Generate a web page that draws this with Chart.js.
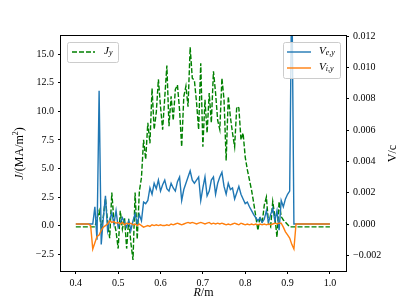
<!DOCTYPE html>
<html>
<head>
<meta charset="utf-8">
<script src="https://cdn.jsdelivr.net/npm/chart.js@4.4.1/dist/chart.umd.min.js"></script>
<style>
html,body{margin:0;padding:0;background:#fff;}
#wrap{width:407px;height:305px;}
</style>
</head>
<body>
<div id="wrap"><canvas id="mycanvas" width="407" height="305"></canvas></div>
<script>
// radius grid (m)
var R = [
  0.400,0.405,0.410,0.415,0.420,0.425,0.430,0.435,0.440,0.445,
  0.450,0.455,0.460,0.465,0.470,0.475,0.480,0.485,0.490,0.495,
  0.500,0.505,0.510,0.515,0.520,0.525,0.530,0.535,0.540,0.545,
  0.550,0.555,0.560,0.565,0.570,0.575,0.580,0.585,0.590,0.595,
  0.600,0.605,0.610,0.615,0.620,0.625,0.630,0.635,0.640,0.645,
  0.650,0.655,0.660,0.665,0.670,0.675,0.680,0.685,0.690,0.695,
  0.700,0.705,0.710,0.715,0.720,0.725,0.730,0.735,0.740,0.745,
  0.750,0.755,0.760,0.765,0.770,0.775,0.780,0.785,0.790,0.795,
  0.800,0.805,0.810,0.815,0.820,0.825,0.830,0.835,0.840,0.845,
  0.850,0.855,0.860,0.865,0.870,0.875,0.880,0.885,0.890,0.895,
  0.900,0.905,0.910,0.915,0.920,0.925,0.930,0.935,0.940,0.945,
  0.950,0.955,0.960,0.965,0.970,0.975,0.980,0.985,0.990,0.995,
  1.000
];
// J_y (MA/m^2)
var J = [
  -0.1,-0.1,-0.1,-0.1,-0.1,-0.1,-0.1,-0.1,-0.1,-0.1,
  0.6,1.3,-0.2,0.8,2.4,0.3,-1.1,2.9,0.4,-0.5,
  -2.0,1.3,-0.3,0.7,-2.0,0.6,-1.5,-3.0,2.9,-1.2,
  3.0,4.2,7.5,5.8,9.0,7.2,12.0,8.4,9.9,12.8,
  10.4,8.4,11.2,14.0,8.7,11.3,9.2,11.9,12.3,10.1,
  6.9,11.3,12.2,10.4,15.6,12.9,12.7,10.8,8.4,14.2,
  6.9,11.0,8.1,11.6,9.0,13.5,11.6,9.2,8.4,12.9,
  11.0,5.7,11.3,9.5,8.1,6.9,10.4,10.3,7.5,8.1,
  6.0,4.9,4.0,3.1,2.0,0.8,-0.4,0.8,0.2,1.8,
  2.5,0.2,-0.1,2.1,0.8,-1.0,2.1,0.8,0.5,0.3,
  0.1,-0.1,-0.1,-0.1,-0.1,-0.1,-0.1,-0.1,-0.1,-0.1,
  -0.1,-0.1,-0.1,-0.1,-0.1,-0.1,-0.1,-0.1,-0.1,-0.1,
  -0.1
];
// V_e,y (c)
var Ve = [
  0,0,0,0,0,0,0,0,0,0.0011,
  -0.0010,0.0085,-0.0013,0.0004,0.0018,-0.0004,0.0003,0.0007,0.0000,0.00085,
  -0.0002,0.0001,0.0004,0.0001,-0.0002,0.0002,-0.0004,0.0002,0.00065,0.0000,
  0.0006,0.0002,0.0014,0.0013,0.0015,0.0023,0.0019,0.0026,0.00225,0.0028,
  0.0021,0.0025,0.0028,0.00225,0.0021,0.0026,0.0023,0.0021,0.0027,0.0030,
  0.0015,0.0022,0.0026,0.0030,0.0034,0.0028,0.0026,0.0028,0.0030,0.0015,
  0.0023,0.0030,0.0018,0.0021,0.0028,0.0030,0.0019,0.0026,0.0030,0.0033,
  0.0024,0.0019,0.0026,0.0022,0.0023,0.0016,0.0020,0.0024,0.0019,0.0016,
  0.0013,0.0014,0.0011,0.00085,0.0006,0.0004,0.0002,0.0004,0.0001,0.0003,
  0.00085,0.0001,0.0006,0.0010,0.0002,0.00085,-0.0004,0.0015,0.0011,0.0016,
  0.0019,0.0021,0.0160,0,0,0,0,0,0,0,
  0,0,0,0,0,0,0,0,0,0,
  0
];
// V_i,y (c)
var Vi = [
  0,0,0,0,0,0,0,-0.0001,-0.0016,-0.0012,
  -0.0008,-0.0007,-0.0004,-0.0002,-0.0001,0.0000,0.0002,0.0001,0.00015,0.00005,
  0.0001,0.0000,0.0001,-0.00005,0.00005,0.0000,0.00005,-0.00005,0.0000,-0.0001,
  0.0000,-0.0001,-0.0002,-0.00015,-0.0001,-0.00015,-0.00005,-0.0001,-0.00005,-0.0001,
  -0.00005,-0.0001,-0.0001,-0.00005,-0.0001,0.0000,-0.00005,0.0000,0.00005,0.0000,
  -0.00005,0.0000,0.00005,0.0001,0.00005,0.0001,0.00005,0.0000,0.00005,0.0001,
  0.00005,0.0000,0.00005,0.0001,0.0000,0.00005,0.0000,0.00005,0.0000,0.00005,
  0.0000,-0.00005,0.0000,-0.00005,0.0000,0.00005,0.0000,-0.00005,0.00005,0.0000,
  -0.00005,0.0000,-0.00005,0.0000,-0.00005,0.0000,-0.00005,0.0000,-0.00005,0.0000,
  -0.00005,0.0000,-0.00005,0.0000,0.00005,0.0000,0.00005,0.00005,-0.0002,-0.0005,
  -0.0007,-0.0009,-0.0013,-0.0016,0,0,0,0,0,0,
  0,0,0,0,0,0,0,0,0,0,
  0
];
var rTicks = [0.4, 0.5, 0.6, 0.7, 0.8, 0.9, 1.0];
var jTicks = [-2.5, 0, 2.5, 5, 7.5, 10, 12.5, 15];
var vTicks = [-0.002, 0, 0.002, 0.004, 0.006, 0.008, 0.010, 0.012];

var SERIF = '"Liberation Serif", "DejaVu Serif", serif';

function pts(ys) {
  return R.map(function(r, i) { return {x: r, y: ys[i]}; });
}
function minus(s) { return s.replace('-', '\u2212'); }

// draw a run of text pieces (mixed fonts), centred on x
function drawRuns(ctx, parts, x, y, align) {
  var w = 0;
  parts.forEach(function(p) { ctx.font = p.f; p.w = ctx.measureText(p.t).width; w += p.w; });
  var cx = align === 'left' ? x : x - w / 2;
  parts.forEach(function(p) {
    ctx.font = p.f;
    ctx.fillText(p.t, cx, y + (p.dy || 0));
    cx += p.w;
  });
}

var extras = {
  id: 'extras',
  afterDatasetsDraw: function(chart) {
    var ctx = chart.ctx, ca = chart.chartArea;
    ctx.save();
    // frame
    ctx.strokeStyle = '#000';
    ctx.lineWidth = 1;
    ctx.strokeRect(Math.round(ca.left) - 0.5, Math.round(ca.top) - 0.5,
      Math.round(ca.right - ca.left) + 1, Math.round(ca.bottom - ca.top) + 1);

    ctx.fillStyle = '#000';
    ctx.textBaseline = 'middle';
    // axis titles
    drawRuns(ctx, [
      {t: 'R', f: 'italic 12px ' + SERIF},
      {t: '/m', f: '12px ' + SERIF}
    ], (ca.left + ca.right) / 2, 293);

    ctx.save();
    ctx.translate(20, (ca.top + ca.bottom) / 2);
    ctx.rotate(-Math.PI / 2);
    drawRuns(ctx, [
      {t: 'J', f: 'italic 12px ' + SERIF},
      {t: '/(MA/m', f: '12px ' + SERIF},
      {t: '2', f: '8px ' + SERIF, dy: -4},
      {t: ')', f: '12px ' + SERIF}
    ], 0, 0);
    ctx.restore();

    ctx.save();
    ctx.translate(393, (ca.top + ca.bottom) / 2);
    ctx.rotate(-Math.PI / 2);
    drawRuns(ctx, [{t: 'V/c', f: '12px ' + SERIF}], 0, 0);
    ctx.restore();

    // legends
    function box(x0, y0, x1, y1) {
      ctx.beginPath();
      ctx.roundRect(x0 + 0.5, y0 + 0.5, x1 - x0, y1 - y0, 2);
      ctx.fillStyle = 'rgba(255,255,255,0.8)';
      ctx.fill();
      ctx.strokeStyle = '#cccccc';
      ctx.lineWidth = 1;
      ctx.stroke();
    }
    function sample(x0, x1, y, color, dash) {
      ctx.beginPath();
      ctx.setLineDash(dash || []);
      ctx.strokeStyle = color;
      ctx.lineWidth = 1.4;
      ctx.moveTo(x0, y);
      ctx.lineTo(x1, y);
      ctx.stroke();
      ctx.setLineDash([]);
    }
    box(67, 42, 118, 62);
    sample(72, 95, 52, '#008000', [5, 2]);
    ctx.fillStyle = '#000';
    drawRuns(ctx, [
      {t: 'J', f: 'italic 11px ' + SERIF},
      {t: 'y', f: 'italic 8px ' + SERIF, dy: 2}
    ], 104, 51, 'left');

    box(283, 42, 340, 78);
    sample(287, 311, 52, '#1f77b4');
    sample(287, 311, 68, '#ff7f0e');
    ctx.fillStyle = '#000';
    drawRuns(ctx, [
      {t: 'V', f: 'italic 11px ' + SERIF},
      {t: 'e,y', f: 'italic 8px ' + SERIF, dy: 2}
    ], 319, 51, 'left');
    drawRuns(ctx, [
      {t: 'V', f: 'italic 11px ' + SERIF},
      {t: 'i,y', f: 'italic 8px ' + SERIF, dy: 2}
    ], 319, 67, 'left');
    ctx.restore();
  }
};

var tickFont = {family: SERIF, size: 10};
function axisGrid() {
  return {drawOnChartArea: false, drawTicks: true, tickLength: 3, color: '#000', tickColor: '#000', lineWidth: 1};
}

var ctx = document.getElementById('mycanvas');
var chart = new Chart(ctx, {
  type: 'line',
  data: {
    datasets: [
      {label: 'V_i,y', data: pts(Vi), yAxisID: 'yv', borderColor: '#ff7f0e', borderWidth: 1.4, order: 0},
      {label: 'V_e,y', data: pts(Ve), yAxisID: 'yv', borderColor: '#1f77b4', borderWidth: 1.4, order: 1},
      {label: 'J_y', data: pts(J), yAxisID: 'yj', borderColor: '#008000', borderWidth: 1.4, borderDash: [5, 2], order: 2}
    ]
  },
  options: {
    responsive: false,
    animation: false,
    devicePixelRatio: 1,
    parsing: false,
    elements: {point: {radius: 0}, line: {tension: 0, fill: false}},
    layout: {padding: {top: 36, left: 0, right: 0, bottom: 0}},
    plugins: {legend: {display: false}, tooltip: {enabled: false}},
    scales: {
      x: {
        type: 'linear', min: 0.365, max: 1.038,
        afterBuildTicks: function(s) { s.ticks = rTicks.map(function(v) { return {value: v}; }); },
        afterFit: function(s) { s.height = 34; },
        grid: axisGrid(), border: {display: false},
        ticks: {font: tickFont, color: '#000', padding: 3, maxRotation: 0, autoSkip: false,
          callback: function(v) { return v.toFixed(1); }}
      },
      yj: {
        type: 'linear', position: 'left', min: -3.96, max: 16.58,
        afterBuildTicks: function(s) { s.ticks = jTicks.map(function(v) { return {value: v}; }); },
        afterFit: function(s) { s.width = 61; },
        grid: axisGrid(), border: {display: false},
        ticks: {font: tickFont, color: '#000', padding: 4, autoSkip: false,
          callback: function(v) { return minus(v.toFixed(1)); }}
      },
      yv: {
        type: 'linear', position: 'right', min: -0.003, max: 0.012,
        afterBuildTicks: function(s) { s.ticks = vTicks.map(function(v) { return {value: v}; }); },
        afterFit: function(s) { s.width = 61; },
        grid: axisGrid(), border: {display: false},
        ticks: {font: tickFont, color: '#000', padding: 4, autoSkip: false,
          callback: function(v) { return minus(v.toFixed(3)); }}
      }
    }
  },
  plugins: [extras]
});
</script>
</body>
</html>
